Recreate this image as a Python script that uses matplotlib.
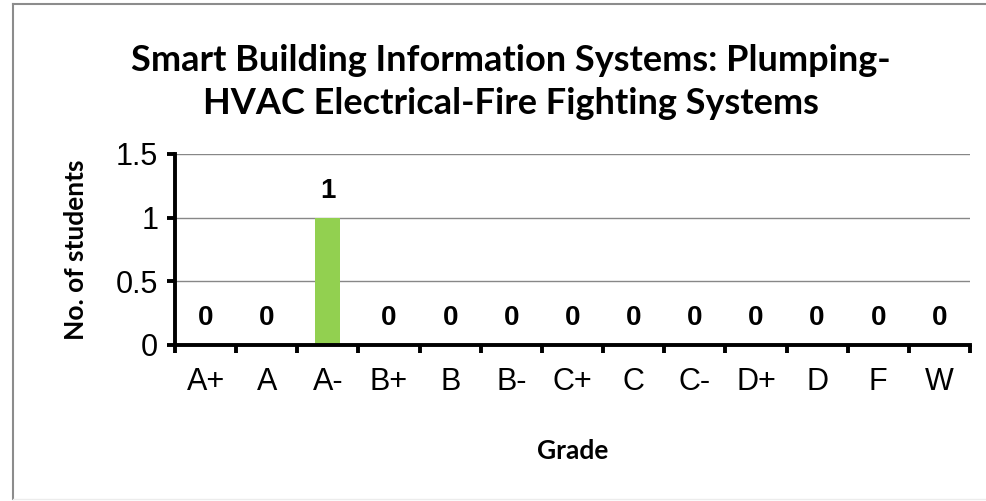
import matplotlib.pyplot as plt
from matplotlib.lines import Line2D

grades = ["A+", "A", "A-", "B+", "B", "B-", "C+", "C", "C-", "D+", "D", "F", "W"]
students = [0, 0, 1, 0, 0, 0, 0, 0, 0, 0, 0, 0, 0]

fig = plt.figure(figsize=(9.86, 5.01), dpi=100)
ax = fig.add_axes([175 / 986, 1 - 345 / 501, 795 / 986, 191 / 501])

x = list(range(len(grades)))
ax.bar(x, students, width=0.41, color="#92D050", zorder=3)

# value labels
for xi, v in zip(x, students):
    ax.annotate(str(v), (xi, v), xytext=(0, 10), textcoords="offset points",
                ha="center", va="bottom", fontsize=20, fontweight="bold",
                family="Liberation Sans")

ax.set_xlim(-0.5, len(grades) - 0.5)
ax.set_ylim(0, 1.5)
ax.set_yticks([0, 0.5, 1, 1.5])
ax.set_yticklabels(["0", "0.5", "1", "1.5"])
ax.set_xticks(x)
ax.set_xticklabels(grades)
ax.set_xticks([i - 0.5 for i in range(len(grades) + 1)], minor=True)

ax.grid(axis="y", color="#878787", linewidth=1, zorder=0)
for s in ["top", "right"]:
    ax.spines[s].set_visible(False)
for s in ["left", "bottom"]:
    ax.spines[s].set_linewidth(2.8)
    ax.spines[s].set_zorder(4)

ax.tick_params(axis="x", which="major", length=0, pad=16)
ax.tick_params(axis="x", which="minor", length=6, width=2.8, direction="out")
ax.tick_params(axis="y", length=6, width=2.8, direction="out", pad=6)
for lab in ax.get_xticklabels() + ax.get_yticklabels():
    lab.set_family("Liberation Sans")
    lab.set_fontsize(22)

ax.set_ylabel("No. of students", fontsize=19, fontweight="bold", family="Lato", labelpad=20)
ax.set_xlabel("Grade", fontsize=19, fontweight="bold", family="Lato", labelpad=30)

fig.text(511 / 986, 1 - 82 / 501, "Smart Building Information Systems: Plumping-\nHVAC Electrical-Fire Fighting Systems",
         ha="center", va="center", fontsize=26, fontweight="bold", family="Lato",
         linespacing=1.35)

# chart border (left, top in grey, bottom faint)
fig.add_artist(Line2D([13 / 986, 13 / 986], [2 / 501, 1 - 4 / 501], transform=fig.transFigure,
                      color="#8c8c8c", linewidth=1.5))
fig.add_artist(Line2D([13 / 986, 1.0], [1 - 4 / 501, 1 - 4 / 501], transform=fig.transFigure,
                      color="#8c8c8c", linewidth=1.5))
fig.add_artist(Line2D([13 / 986, 1.0], [2 / 501, 2 / 501], transform=fig.transFigure,
                      color="#ececec", linewidth=1.0))

fig.savefig("out.png", dpi=100)
